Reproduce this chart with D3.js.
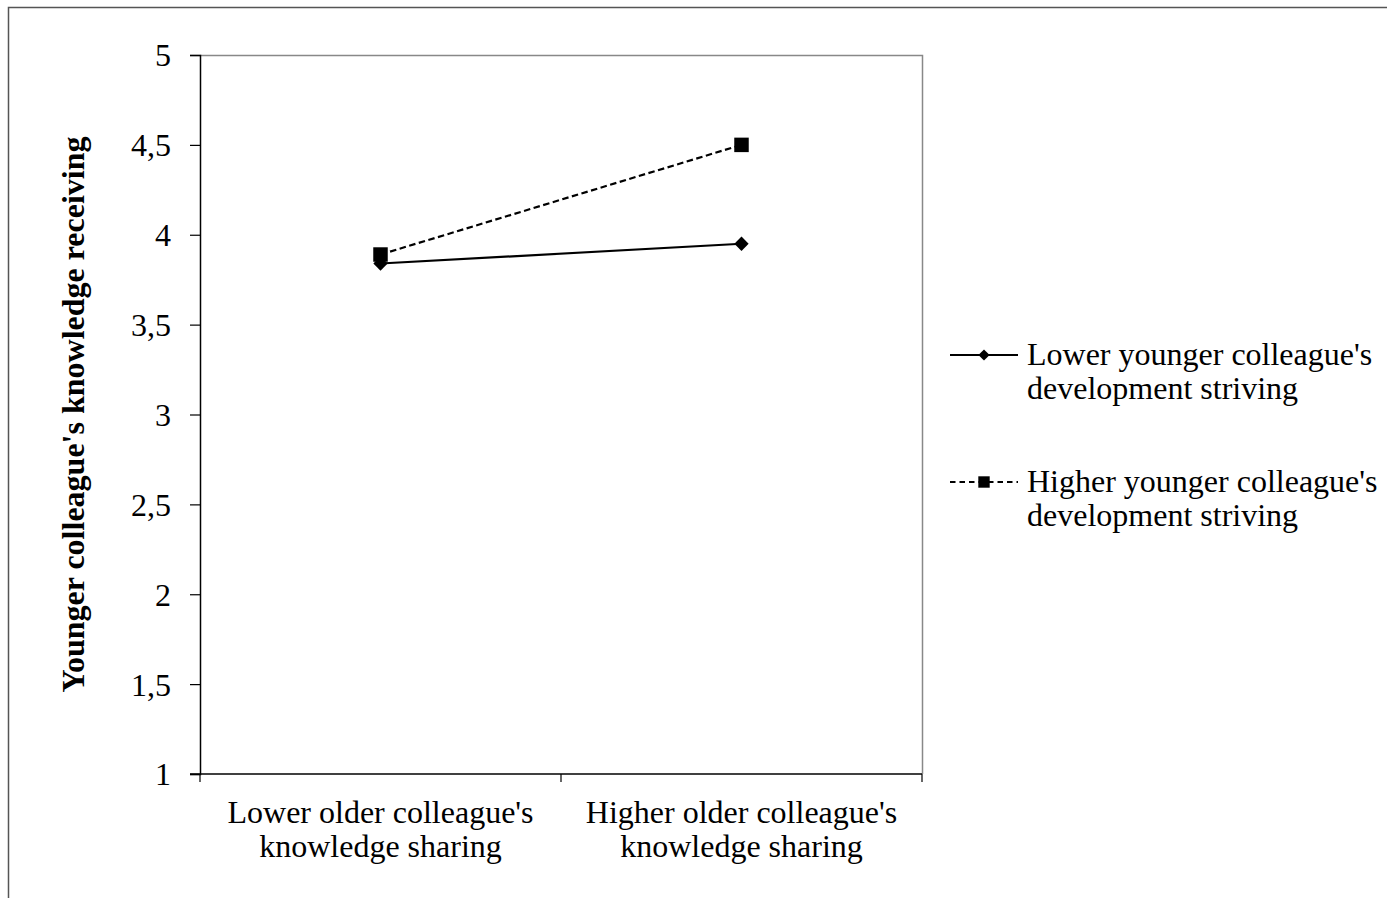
<!DOCTYPE html>
<html>
<head>
<meta charset="utf-8">
<script src="https://cdn.jsdelivr.net/npm/d3@7"></script>
<style>
  body { margin: 0; background: #fff; }
  text { font-family: "Liberation Serif", "Times New Roman", serif; fill: #000; }
</style>
</head>
<body>
<div id="chart"></div>
<script>
// Chart values
const categories = [
  ["Lower older colleague's", "knowledge sharing"],
  ["Higher older colleague's", "knowledge sharing"]
];
const lowerStriving = [3.84, 3.95];
const higherStriving = [3.89, 4.5];
const seriesNames = [
  ["Lower younger colleague's", "development striving"],
  ["Higher younger colleague's", "development striving"]
];
const yTicks = [1, 1.5, 2, 2.5, 3, 3.5, 4, 4.5, 5];
const yTitle = "Younger colleague's knowledge receiving";

const width = 1387, height = 898;
const margin = { top: 55, right: 465, bottom: 124, left: 200 };
const innerW = width - margin.left - margin.right;
const innerH = height - margin.top - margin.bottom;
const fontSize = 32;

const svg = d3.select('#chart').append('svg')
  .attr('width', width)
  .attr('height', height);

// outer frame
svg.append('rect')
  .attr('x', 8.5).attr('y', 7.5)
  .attr('width', 1400).attr('height', 900)
  .attr('fill', 'none')
  .attr('stroke', '#555')
  .attr('stroke-width', 1.5);

const g = svg.append('g')
  .attr('transform', `translate(${margin.left},${margin.top})`);

const xScale = d3.scaleBand()
  .domain(d3.range(categories.length))
  .range([0, innerW]);

const yScale = d3.scaleLinear()
  .domain([1, 5])
  .range([innerH, 0]);

// plot border top and right
g.append('path')
  .attr('d', `M0,0.5H${innerW + 0.5}V${innerH}`)
  .attr('fill', 'none')
  .attr('stroke', '#888')
  .attr('stroke-width', 1.5);

// y axis
const yAxis = d3.axisLeft(yScale)
  .tickValues(yTicks)
  .tickSize(10)
  .tickPadding(19)
  .tickFormat(d => String(d).replace('.', ','));

const yAxisG = g.append('g').call(yAxis)
  .attr('font-family', null)
  .attr('font-size', null);
yAxisG.select('.domain').attr('stroke', '#000').attr('stroke-width', 1.5);
yAxisG.selectAll('.tick line').attr('stroke', '#000').attr('stroke-width', 1.2);
yAxisG.selectAll('.tick text')
  .attr('font-size', fontSize)
  .attr('dy', '0.34em');

// x axis: ticks at category boundaries
const xAxisG = g.append('g').attr('transform', `translate(0,${innerH})`);
xAxisG.append('line')
  .attr('x1', -10).attr('x2', innerW)
  .attr('stroke', '#000').attr('stroke-width', 1.5);
const bounds = d3.range(categories.length + 1).map(i => i * xScale.step());
xAxisG.selectAll('.xtick')
  .data(bounds)
  .join('line')
  .attr('class', 'xtick')
  .attr('x1', d => d).attr('x2', d => d)
  .attr('y1', 0).attr('y2', 8)
  .attr('stroke', '#000').attr('stroke-width', 1.2);

const xLabels = xAxisG.selectAll('.xlabel')
  .data(categories)
  .join('text')
  .attr('class', 'xlabel')
  .attr('text-anchor', 'middle')
  .attr('font-size', fontSize)
  .attr('transform', (d, i) => `translate(${xScale(i) + xScale.bandwidth() / 2},49)`);
xLabels.selectAll('tspan')
  .data(d => d)
  .join('tspan')
  .attr('x', 0)
  .attr('dy', (d, i) => i === 0 ? 0 : 34)
  .text(d => d);

// y title
svg.append('text')
  .attr('transform', `translate(84,${margin.top + innerH / 2}) rotate(-90)`)
  .attr('text-anchor', 'middle')
  .attr('font-size', fontSize)
  .attr('font-weight', 'bold')
  .text(yTitle);

// series
const cx = i => xScale(i) + xScale.bandwidth() / 2;
const line = d3.line()
  .x((d, i) => cx(i))
  .y(d => yScale(d));

g.append('path')
  .datum(lowerStriving)
  .attr('d', line)
  .attr('fill', 'none')
  .attr('stroke', '#000')
  .attr('stroke-width', 2.2);

g.append('path')
  .datum(higherStriving)
  .attr('d', line)
  .attr('fill', 'none')
  .attr('stroke', '#000')
  .attr('stroke-width', 2.2)
  .attr('stroke-dasharray', '6.5,3.5');

const diamond = d3.symbol().type(d3.symbolDiamond2).size(130);
const square = d3.symbol().type(d3.symbolSquare).size(210);

g.selectAll('.sq')
  .data(higherStriving)
  .join('path')
  .attr('class', 'sq')
  .attr('d', square)
  .attr('transform', (d, i) => `translate(${cx(i)},${yScale(d)})`)
  .attr('fill', '#000');

g.selectAll('.dm')
  .data(lowerStriving)
  .join('path')
  .attr('class', 'dm')
  .attr('d', diamond)
  .attr('transform', (d, i) => `translate(${cx(i)},${yScale(d)})`)
  .attr('fill', '#000');

// legend
const legend = svg.append('g').attr('transform', 'translate(950,355)');
const items = legend.selectAll('.item')
  .data(seriesNames)
  .join('g')
  .attr('class', 'item')
  .attr('transform', (d, i) => `translate(0,${i * 127})`);

items.append('line')
  .attr('x1', 0).attr('x2', 68)
  .attr('stroke', '#000')
  .attr('stroke-width', 2)
  .attr('stroke-dasharray', (d, i) => i === 0 ? null : '5.5,4');

items.append('path')
  .attr('d', (d, i) => i === 0 ? d3.symbol().type(d3.symbolDiamond2).size(80)() : d3.symbol().type(d3.symbolSquare).size(130)())
  .attr('transform', 'translate(34,0)')
  .attr('fill', '#000');

items.append('text')
  .attr('font-size', fontSize)
  .attr('y', 10)
  .selectAll('tspan')
  .data(d => d)
  .join('tspan')
  .attr('x', 77)
  .attr('dy', (d, i) => i === 0 ? 0 : 34)
  .text(d => d);
</script>
</body>
</html>
